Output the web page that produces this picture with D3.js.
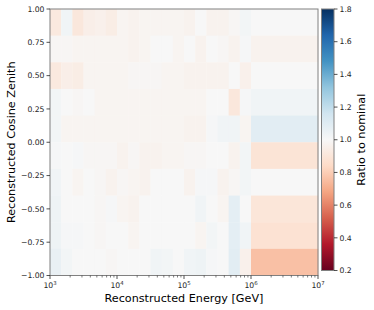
<!DOCTYPE html>
<html><head><meta charset="utf-8">
<script src="https://cdn.jsdelivr.net/npm/d3@7"></script>
<style>body{margin:0;background:#fff}svg{display:block;font-family:"DejaVu Sans",sans-serif}</style>
</head><body><svg id="c" width="374" height="310"></svg>
<script>
// Energy bin edges [GeV] (1/6 decade up to 1 PeV, then one wide bin)
const energyEdges = [1000, 1468, 2154, 3162, 4642, 6813, 10000, 14678, 21544, 31623, 46416, 68129,
  100000, 146780, 215440, 316230, 464160, 681290, 1000000, 10000000];
// Cosine zenith bin edges, top to bottom
const zenithEdges = [1.0, 0.8, 0.6, 0.4, 0.2, 0.0, -0.2, -0.4, -0.6, -0.8, -1.0];
// Ratio to nominal, one row per zenith bin (top row = 0.8..1.0)
const ratioRows = [
  [0.92,1.03,0.91,0.95,0.96,0.94,0.98,0.97,0.98,0.98,0.98,0.98,0.97,1.00,0.97,0.97,0.99,1.02,1.00],
  [0.99,0.99,0.98,0.98,0.98,0.98,0.98,0.97,0.98,1.00,1.00,0.98,1.00,0.97,1.00,0.99,0.97,1.01,0.97],
  [0.92,0.95,0.94,0.98,0.98,0.98,0.98,0.99,0.99,0.99,0.98,0.98,0.97,0.97,0.97,0.97,1.00,0.96,1.00],
  [1.02,1.00,0.99,1.00,0.98,0.98,0.98,0.98,0.98,0.98,0.98,0.98,0.98,0.98,1.00,1.00,0.91,1.01,1.03],
  [1.02,0.98,0.98,0.98,0.98,0.98,0.98,0.98,0.98,0.98,0.98,0.98,0.97,0.97,1.01,1.03,1.03,0.98,1.09],
  [1.01,1.00,1.01,0.99,0.99,0.99,0.97,0.99,0.97,0.97,0.98,0.98,0.99,0.99,1.00,1.00,0.97,1.02,0.89],
  [1.03,1.00,0.98,1.00,0.99,0.97,0.99,0.98,0.97,1.00,1.00,1.00,0.97,1.01,1.01,0.97,0.99,1.02,1.00],
  [1.04,1.00,1.00,1.00,0.99,1.01,0.98,0.97,1.00,1.00,1.00,1.00,1.00,1.03,1.00,0.98,1.08,1.00,0.90],
  [1.04,1.01,1.01,1.00,0.99,1.00,1.00,0.98,1.00,1.00,1.00,1.00,1.00,0.98,1.02,1.00,1.08,1.03,0.88],
  [1.06,1.02,1.00,1.00,1.00,0.99,1.00,1.00,1.00,1.03,1.02,1.00,1.03,1.04,1.01,1.00,1.09,0.96,0.76]
];
const xTickExps = [3, 4, 5, 6, 7];
const yTicks = [1.00, 0.75, 0.50, 0.25, 0.00, -0.25, -0.50, -0.75, -1.00];
const cbarTicks = [0.2, 0.4, 0.6, 0.8, 1.0, 1.2, 1.4, 1.6, 1.8];
const rdbu = ["#67001f","#b2182b","#d6604d","#f4a582","#fddbc7","#f7f7f7","#d1e5f0","#92c5de","#4393c3","#2166ac","#053061"];

const L = 50, R = 318, T = 9, B = 275.5;
const CX0 = 321.5, CX1 = 334, CB = 270.5;
const svg = d3.select("#c");
const x = d3.scaleLog().domain([1e3, 1e7]).range([L, R]);
const y = d3.scaleLinear().domain([-1, 1]).range([B, T]);
const cs = d3.scaleLinear().domain(d3.range(11).map(i => 0.2 + i * 0.16)).range(rdbu).clamp(true);

const cells = [];
ratioRows.forEach((row, r) => row.forEach((v, c) => cells.push({
  x0: energyEdges[c], x1: energyEdges[c + 1], y0: zenithEdges[r], y1: zenithEdges[r + 1], v})));
svg.append("g").selectAll("rect").data(cells).join("rect")
  .attr("x", d => x(d.x0)).attr("width", d => x(d.x1) - x(d.x0) + 0.3)
  .attr("y", d => y(d.y0)).attr("height", d => y(d.y1) - y(d.y0) + 0.3)
  .attr("fill", d => cs(d.v));

const grey = "#808080", txt = "#262626";
svg.append("rect").attr("x", L).attr("y", T).attr("width", R - L).attr("height", B - T)
  .attr("fill", "none").attr("stroke", grey).attr("stroke-width", 1);

// x axis
const minor = [];
for (let e = 3; e < 7; e++) for (let m = 2; m <= 9; m++) minor.push(m * Math.pow(10, e));
svg.append("g").selectAll("line").data(minor).join("line")
  .attr("x1", d => x(d)).attr("x2", d => x(d)).attr("y1", B).attr("y2", B + 2)
  .attr("stroke", txt).attr("stroke-width", 0.6);
const xt = svg.append("g").selectAll("g").data(xTickExps).join("g")
  .attr("transform", d => `translate(${x(Math.pow(10, d))},${B})`);
xt.append("line").attr("y2", 3.5).attr("stroke", txt).attr("stroke-width", 0.8);
const xl = xt.append("text").attr("y", 12.5).attr("text-anchor", "middle").attr("font-size", 7.7).attr("fill", txt);
xl.append("tspan").text("10");
xl.append("tspan").attr("dy", -3.2).attr("font-size", 5.4).text(d => d);

// y axis
const yt = svg.append("g").selectAll("g").data(yTicks).join("g")
  .attr("transform", d => `translate(${L},${y(d)})`);
yt.append("line").attr("x2", -3.5).attr("stroke", txt).attr("stroke-width", 0.8);
yt.append("text").attr("x", -5.5).attr("dy", "0.35em").attr("text-anchor", "end")
  .attr("font-size", 7.7).attr("fill", txt).text(d => d.toFixed(2).replace("-", "\u2212"));

svg.append("text").attr("x", (L + R) / 2).attr("y", 302).attr("text-anchor", "middle")
  .attr("font-size", 11.2).attr("fill", "#000").text("Reconstructed Energy [GeV]");
svg.append("text").attr("transform", `translate(15,${(T + B) / 2}) rotate(-90)`).attr("text-anchor", "middle")
  .attr("font-size", 11.2).attr("fill", "#000").text("Reconstructed Cosine Zenith");

// colorbar
const cy = d3.scaleLinear().domain([0.2, 1.8]).range([CB, T]);
const grad = svg.append("defs").append("linearGradient").attr("id", "g")
  .attr("x1", 0).attr("y1", 1).attr("x2", 0).attr("y2", 0);
grad.selectAll("stop").data(rdbu).join("stop")
  .attr("offset", (d, i) => i / 10).attr("stop-color", d => d);
svg.append("rect").attr("x", CX0).attr("y", T).attr("width", CX1 - CX0).attr("height", CB - T)
  .attr("fill", "url(#g)").attr("stroke", grey).attr("stroke-width", 1);
const ct = svg.append("g").selectAll("g").data(cbarTicks).join("g")
  .attr("transform", d => `translate(${CX1},${cy(d)})`);
ct.append("line").attr("x2", 3.5).attr("stroke", txt).attr("stroke-width", 0.8);
ct.append("text").attr("x", 5.5).attr("dy", "0.35em").attr("font-size", 7.7).attr("fill", txt)
  .text(d => d.toFixed(1));
svg.append("text").attr("transform", `translate(365,${(T + CB) / 2}) rotate(-90)`).attr("text-anchor", "middle")
  .attr("font-size", 11.2).attr("fill", "#000").text("Ratio to nominal");
</script></body></html>
